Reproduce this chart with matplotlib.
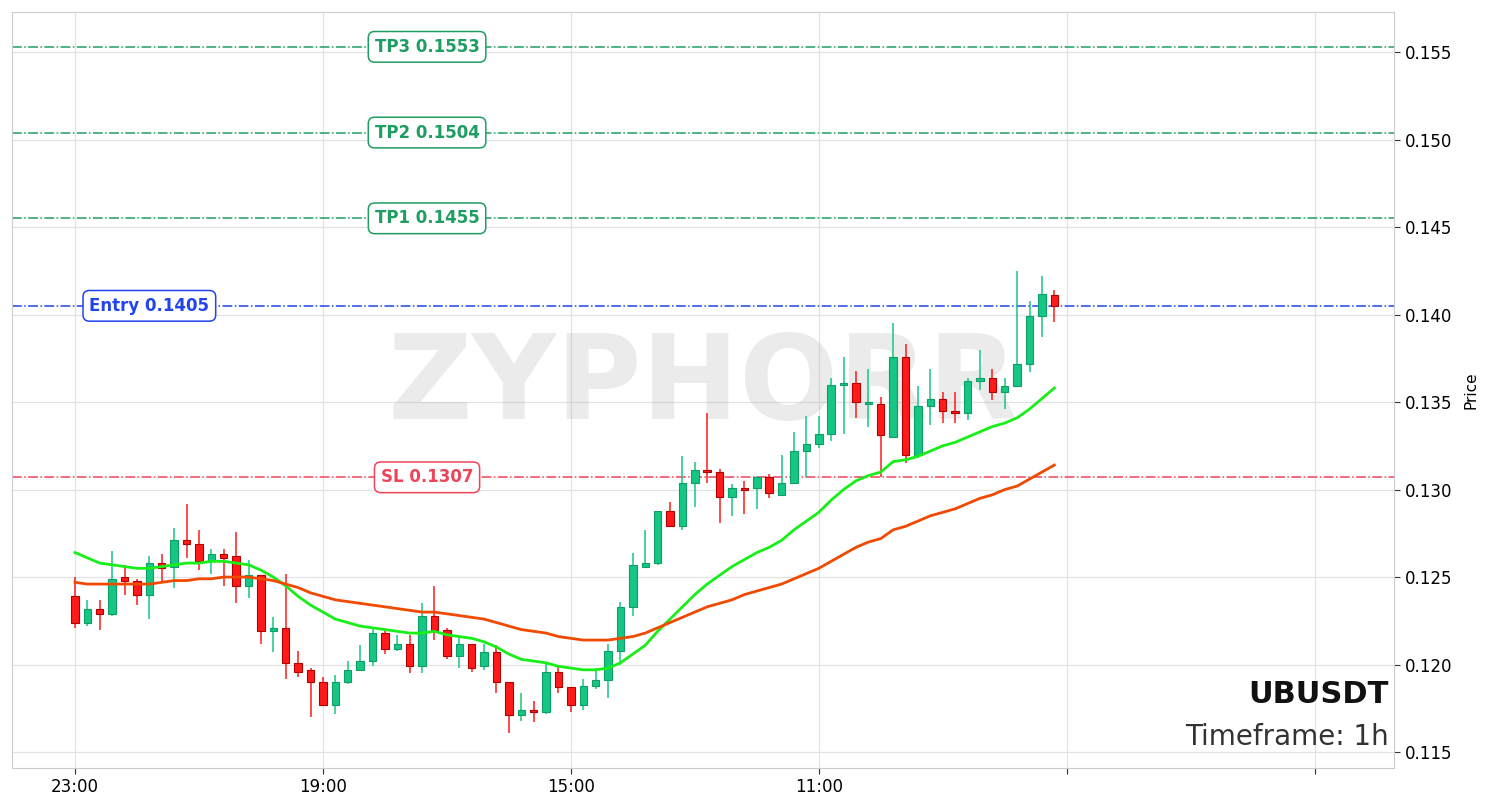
import numpy as np
import matplotlib
matplotlib.use("Agg")
import matplotlib.pyplot as plt

# hourly candles
opens = [0.1239, 0.1224, 0.1232, 0.1229, 0.1250, 0.1248, 0.1240, 0.1258, 0.1256, 0.1271,
         0.1269, 0.1259, 0.1263, 0.1262, 0.1245, 0.1251, 0.1219, 0.1221, 0.1201, 0.1197,
         0.1190, 0.1177, 0.1190, 0.1197, 0.1202, 0.1218, 0.1209, 0.1212, 0.1199, 0.1228,
         0.1220, 0.1205, 0.1212, 0.1199, 0.1207, 0.1190, 0.1171, 0.1174, 0.1173, 0.1196,
         0.1187, 0.1177, 0.1188, 0.1191, 0.1208, 0.1233, 0.1256, 0.1258, 0.1288, 0.1279,
         0.1304, 0.1311, 0.1310, 0.1296, 0.1301, 0.1301, 0.1307, 0.1297, 0.1304, 0.1322,
         0.1326, 0.1332, 0.1360, 0.1361, 0.1349, 0.1349, 0.1330, 0.1376, 0.1320, 0.1348,
         0.1352, 0.1345, 0.1344, 0.1362, 0.1364, 0.1356, 0.1359, 0.1372, 0.1399, 0.1411]
highs = [0.1250, 0.1237, 0.1237, 0.1265, 0.1257, 0.1249, 0.1262, 0.1263, 0.1278, 0.1292,
         0.1277, 0.1266, 0.1266, 0.1276, 0.1260, 0.1251, 0.1227, 0.1252, 0.1208, 0.1198,
         0.1193, 0.1194, 0.1202, 0.1211, 0.1221, 0.1219, 0.1217, 0.1217, 0.1235, 0.1245,
         0.1221, 0.1216, 0.1212, 0.1212, 0.1211, 0.1190, 0.1184, 0.1179, 0.1201, 0.1199,
         0.1187, 0.1192, 0.1198, 0.1212, 0.1236, 0.1264, 0.1277, 0.1288, 0.1293, 0.1319,
         0.1316, 0.1344, 0.1312, 0.1303, 0.1305, 0.1308, 0.1309, 0.1320, 0.1333, 0.1342,
         0.1342, 0.1364, 0.1376, 0.1368, 0.1369, 0.1353, 0.1395, 0.1383, 0.1359, 0.1369,
         0.1356, 0.1356, 0.1364, 0.1380, 0.1369, 0.1364, 0.1425, 0.1408, 0.1422, 0.1414]
lows = [0.1221, 0.1222, 0.1220, 0.1228, 0.1240, 0.1234, 0.1226, 0.1247, 0.1244, 0.1261,
        0.1254, 0.1252, 0.1245, 0.1235, 0.1238, 0.1212, 0.1207, 0.1192, 0.1193, 0.1170,
        0.1177, 0.1172, 0.1189, 0.1197, 0.1199, 0.1206, 0.1208, 0.1195, 0.1195, 0.1214,
        0.1203, 0.1198, 0.1196, 0.1197, 0.1184, 0.1161, 0.1168, 0.1167, 0.1172, 0.1184,
        0.1173, 0.1174, 0.1186, 0.1181, 0.1200, 0.1228, 0.1256, 0.1257, 0.1279, 0.1277,
        0.1290, 0.1304, 0.1281, 0.1285, 0.1286, 0.1289, 0.1295, 0.1297, 0.1303, 0.1307,
        0.1324, 0.1328, 0.1332, 0.1341, 0.1336, 0.1307, 0.1330, 0.1315, 0.1318, 0.1337,
        0.1338, 0.1338, 0.1340, 0.1357, 0.1351, 0.1346, 0.1359, 0.1367, 0.1387, 0.1396]
closes = [0.1224, 0.1232, 0.1229, 0.1249, 0.1248, 0.1240, 0.1258, 0.1255, 0.1271, 0.1269,
          0.1259, 0.1263, 0.1261, 0.1245, 0.1251, 0.1219, 0.1221, 0.1201, 0.1196, 0.1190,
          0.1177, 0.1190, 0.1197, 0.1202, 0.1218, 0.1209, 0.1212, 0.1199, 0.1228, 0.1220,
          0.1205, 0.1212, 0.1198, 0.1207, 0.1190, 0.1171, 0.1174, 0.1173, 0.1196, 0.1187,
          0.1177, 0.1188, 0.1191, 0.1208, 0.1233, 0.1257, 0.1258, 0.1288, 0.1279, 0.1304,
          0.1311, 0.1310, 0.1296, 0.1301, 0.1300, 0.1307, 0.1298, 0.1304, 0.1322, 0.1326,
          0.1332, 0.1360, 0.1361, 0.1350, 0.1349, 0.1331, 0.1376, 0.1320, 0.1348, 0.1352,
          0.1345, 0.1344, 0.1362, 0.1364, 0.1356, 0.1359, 0.1372, 0.1399, 0.1412, 0.1405]

ma_fast = [0.1264, 0.1261, 0.1258, 0.1257, 0.1256, 0.1255, 0.1255, 0.1256, 0.1257, 0.1258,
           0.1258, 0.1259, 0.1259, 0.1258, 0.1257, 0.1254, 0.1250, 0.1245, 0.1239, 0.1234,
           0.1230, 0.1226, 0.1224, 0.1222, 0.1221, 0.1220, 0.1219, 0.1218, 0.1218, 0.1219,
           0.1217, 0.1216, 0.1215, 0.1213, 0.1210, 0.1206, 0.1203, 0.1202, 0.1201, 0.1199,
           0.1198, 0.1197, 0.1197, 0.1198, 0.1201, 0.1206, 0.1211, 0.1219, 0.1226, 0.1233,
           0.1240, 0.1246, 0.1251, 0.1256, 0.1260, 0.1264, 0.1267, 0.1271, 0.1277, 0.1282,
           0.1287, 0.1294, 0.1300, 0.1305, 0.1308, 0.1310, 0.1316, 0.1317, 0.1319, 0.1322,
           0.1325, 0.1327, 0.1330, 0.1333, 0.1336, 0.1338, 0.1341, 0.1346, 0.1352, 0.1358]
ma_slow = [0.1247, 0.1246, 0.1246, 0.1246, 0.1246, 0.1246, 0.1246, 0.1247, 0.1248, 0.1248,
           0.1249, 0.1249, 0.1250, 0.1250, 0.1250, 0.1249, 0.1248, 0.1246, 0.1244, 0.1241,
           0.1239, 0.1237, 0.1236, 0.1235, 0.1234, 0.1233, 0.1232, 0.1231, 0.1230, 0.1230,
           0.1229, 0.1228, 0.1227, 0.1226, 0.1224, 0.1222, 0.1220, 0.1219, 0.1218, 0.1216,
           0.1215, 0.1214, 0.1214, 0.1214, 0.1215, 0.1216, 0.1218, 0.1221, 0.1224, 0.1227,
           0.1230, 0.1233, 0.1235, 0.1237, 0.1240, 0.1242, 0.1244, 0.1246, 0.1249, 0.1252,
           0.1255, 0.1259, 0.1263, 0.1267, 0.1270, 0.1272, 0.1277, 0.1279, 0.1282, 0.1285,
           0.1287, 0.1289, 0.1292, 0.1295, 0.1297, 0.1300, 0.1302, 0.1306, 0.1310, 0.1314]

tick_pos = [0, 20, 40, 60, 80, 100]
tick_labels = ['23:00', '19:00', '15:00', '11:00', '', '']

levels = [('TP3', 0.1553), ('TP2', 0.1504), ('TP1', 0.1455), ('Entry', 0.1405), ('SL', 0.1307)]

symbol = 'UBUSDT'
timeframe = '1h'

UP = '#16c784'
UP_EDGE = '#0e9e66'
DOWN = '#ff1a1a'
DOWN_EDGE = '#b00000'
level_colors = {'TP': '#1f9e62', 'Entry': '#2244ee', 'SL': '#ee4459'}

fig = plt.figure(figsize=(14.9, 8.08), dpi=100)
ax = fig.add_axes([12 / 1490, 40 / 808, 1382 / 1490, 756 / 808])

x = np.arange(len(opens))
o = np.array(opens)
c = np.array(closes)
h = np.array(highs)
l = np.array(lows)
up = c >= o

# wicks then bodies
ax.vlines(x[up], l[up], h[up], color=UP, lw=1.1, zorder=3)
ax.vlines(x[~up], l[~up], h[~up], color=DOWN, lw=1.1, zorder=3)
body_lo = np.minimum(o, c)
body_h = np.maximum(np.abs(c - o), 0.00008)
ax.bar(x[up], body_h[up], bottom=body_lo[up], width=0.6, color=UP,
       edgecolor=UP_EDGE, linewidth=0.8, zorder=4)
ax.bar(x[~up], body_h[~up], bottom=body_lo[~up], width=0.6, color=DOWN,
       edgecolor=DOWN_EDGE, linewidth=0.8, zorder=4)

ax.plot(x, ma_fast, color='#18ee18', lw=2, zorder=5)
ax.plot(x, ma_slow, color='#f04a00', lw=2, zorder=5)

# trade levels
for name, val in levels:
    col = level_colors['TP'] if name.startswith('TP') else level_colors[name]
    ax.axhline(val, color=col, lw=1.1, ls='-.', zorder=2)
    lx = 6 if name == 'Entry' else 28.4
    ax.text(lx, val, f'{name} {val:.4f}', color=col, fontsize=12, fontweight='bold',
            ha='center', va='center', zorder=6,
            bbox=dict(boxstyle='round,pad=0.38', fc='white', ec=col, lw=1.1))

ax.text(0.5, 0.505, 'ZYPHORR', transform=ax.transAxes, fontsize=84, fontweight='bold',
        color='#888888', alpha=0.16, ha='center', va='center', zorder=1)

ax.text(0.996, 0.097, symbol, transform=ax.transAxes, fontsize=22, fontweight='bold',
        color='#111111', ha='right', va='center', zorder=7)
ax.text(0.996, 0.041, f'Timeframe: {timeframe}', transform=ax.transAxes, fontsize=20,
        color='#333333', ha='right', va='center', zorder=7)

ax.set_xlim(-5.08, 106.4)
ax.set_ylim(0.11409, 0.15729)
ax.set_xticks(tick_pos)
ax.set_xticklabels(tick_labels)
ax.set_yticks([0.115, 0.120, 0.125, 0.130, 0.135, 0.140, 0.145, 0.150, 0.155])
ax.yaxis.tick_right()
ax.yaxis.set_label_position('right')
ax.set_ylabel('Price', fontsize=11, labelpad=8)
ax.tick_params(labelsize=12, length=4, color='#333333')
ax.grid(True, color='#e3e3e3', lw=0.9, zorder=0)
ax.set_axisbelow(True)
for s in ax.spines.values():
    s.set_color('#cccccc')

fig.savefig('out.png', dpi=100)
